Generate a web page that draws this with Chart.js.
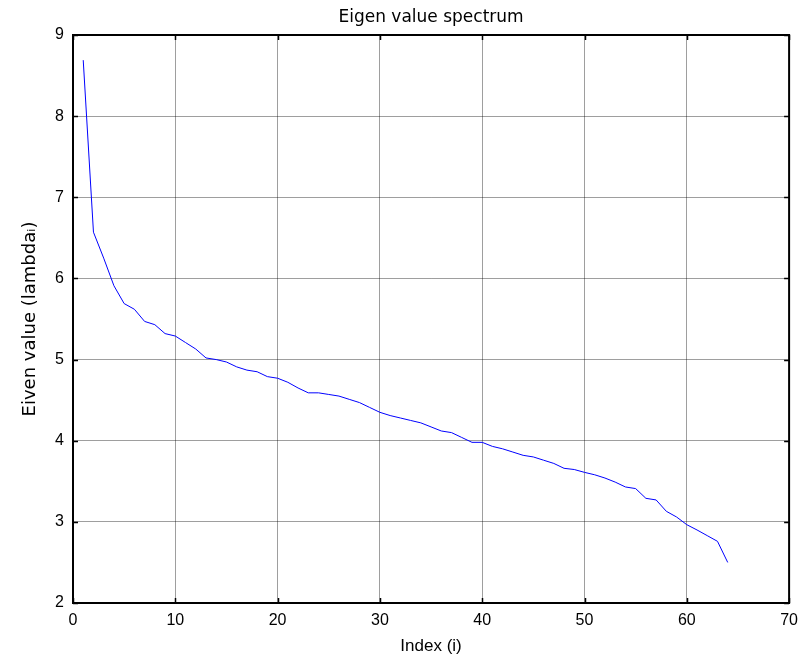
<!DOCTYPE html>
<html>
<head>
<meta charset="utf-8">
<title>Eigen value spectrum</title>
<script src="https://cdn.jsdelivr.net/npm/chart.js@4.4.0/dist/chart.umd.min.js"></script>
<style>
  html, body { margin: 0; padding: 0; background: #fff; }
  #wrap { width: 806px; height: 658px; }
</style>
</head>
<body>
<div id="wrap"><canvas id="spectrum" width="806" height="658"></canvas></div>
<script>
// DATA
const indices = [
  1, 2, 3, 4, 5, 6, 7, 8, 9, 10, 11, 12, 13, 14, 15, 16, 17, 18, 19, 20, 21, 22,
  23, 24, 25, 26, 27, 28, 29, 30, 31, 32, 33, 34, 35, 36, 37, 38, 39, 40, 41, 42,
  43, 44, 45, 46, 47, 48, 49, 50, 51, 52, 53, 54, 55, 56, 57, 58, 59, 60, 61, 62,
  63, 64,
];
const eigenValues = [
  8.69, 6.57, 6.25, 5.91, 5.69, 5.62, 5.47, 5.43, 5.32, 5.29, 5.21, 5.13, 5.02,
  5.0, 4.97, 4.91, 4.87, 4.85, 4.79, 4.77, 4.72, 4.65, 4.59, 4.59, 4.57, 4.55,
  4.51, 4.47, 4.41, 4.35, 4.31, 4.28, 4.25, 4.22, 4.17, 4.12, 4.1, 4.04, 3.98,
  3.98, 3.93, 3.9, 3.86, 3.82, 3.8, 3.76, 3.72, 3.66, 3.645, 3.61, 3.58, 3.54,
  3.49, 3.43, 3.41, 3.29, 3.27, 3.13, 3.06, 2.965, 2.9, 2.83, 2.76, 2.5,
];
const xTicks = [0, 10, 20, 30, 40, 50, 60, 70];
const yTicks = [2, 3, 4, 5, 6, 7, 8, 9];

const tickFont = { family: "Liberation Sans", size: 16 };

// box round the plot with short inward tick marks on every side
const boxAxes = {
  id: "boxAxes",
  afterDatasetsDraw(chart) {
    const {
      ctx,
      chartArea: { left, right, top, bottom },
      scales: { x, y },
    } = chart;
    ctx.save();
    ctx.strokeStyle = "#000";
    ctx.lineWidth = 1.5;
    ctx.beginPath();
    x.ticks.forEach((t) => {
      const px = Math.round(x.getPixelForValue(t.value)) + 0.5;
      ctx.moveTo(px, bottom);
      ctx.lineTo(px, bottom - 5);
      ctx.moveTo(px, top);
      ctx.lineTo(px, top + 5);
    });
    y.ticks.forEach((t) => {
      const py = Math.round(y.getPixelForValue(t.value)) + 0.5;
      ctx.moveTo(left, py);
      ctx.lineTo(left + 5, py);
      ctx.moveTo(right, py);
      ctx.lineTo(right - 5, py);
    });
    ctx.stroke();
    ctx.lineWidth = 2;
    ctx.strokeRect(left, top, right - left, bottom - top);
    ctx.restore();
  },
};

const points = indices.map((i, k) => ({ x: i, y: eigenValues[k] }));

new Chart(document.getElementById("spectrum"), {
  type: "line",
  data: {
    datasets: [
      {
        label: "lambda",
        data: points,
        borderColor: "#0000ff",
        borderWidth: 1,
        pointRadius: 0,
        tension: 0,
        fill: false,
      },
    ],
  },
  options: {
    responsive: false,
    animation: false,
    layout: { padding: { top: 0, right: 10, bottom: 0, left: 0 } },
    plugins: {
      legend: { display: false },
      tooltip: { enabled: false },
      title: {
        display: true,
        text: "Eigen value spectrum",
        fullSize: false,
        color: "#000",
        font: { family: "DejaVu Sans", size: 17, weight: "normal", lineHeight: 1.2 },
        padding: { top: 7, bottom: 7.6 },
      },
    },
    scales: {
      x: {
        type: "linear",
        min: xTicks[0],
        max: xTicks[xTicks.length - 1],
        afterBuildTicks: (s) => {
          s.ticks = xTicks.map((v) => ({ value: v }));
        },
        afterFit: (s) => {
          s.height = 55;
        },
        grid: { color: "rgba(0,0,0,0.38)", lineWidth: 1, drawTicks: false },
        border: { display: false },
        ticks: { color: "#000", font: tickFont, padding: 8, maxRotation: 0 },
        title: {
          display: true,
          text: "Index (i)",
          color: "#000",
          font: { family: "Liberation Sans", size: 17, lineHeight: 1.2 },
          padding: { top: 0, bottom: 1 },
        },
      },
      y: {
        type: "linear",
        min: yTicks[0],
        max: yTicks[yTicks.length - 1],
        afterBuildTicks: (s) => {
          s.ticks = yTicks.map((v) => ({ value: v }));
        },
        afterFit: (s) => {
          s.width = 73;
        },
        grid: { color: "rgba(0,0,0,0.38)", lineWidth: 1, drawTicks: false },
        border: { display: false },
        ticks: { color: "#000", font: tickFont, padding: 9 },
        title: {
          display: true,
          text: "Eiven value (lambda\u1d62)",
          color: "#000",
          font: { family: "DejaVu Sans", size: 18, lineHeight: 1.2 },
          padding: { top: 20, bottom: 0 },
        },
      },
    },
  },
  plugins: [boxAxes],
});
</script>
</body>
</html>
